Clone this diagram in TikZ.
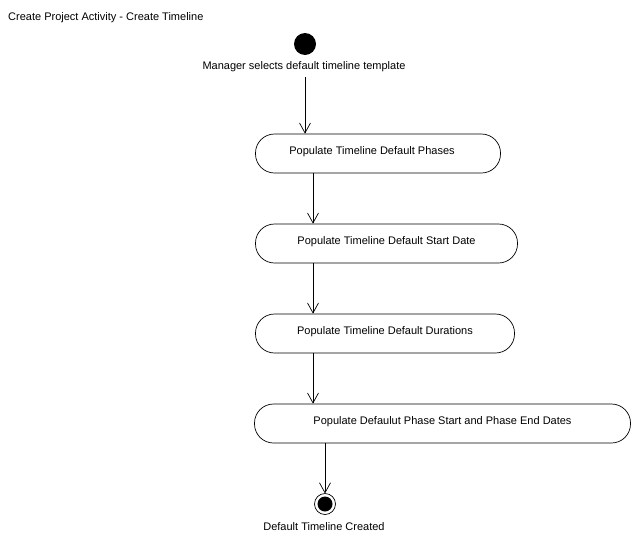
\documentclass[tikz,border=0pt]{standalone}
\usepackage{fontspec}
\setmainfont{Liberation Sans}
\usetikzlibrary{arrows.meta}
\begin{document}
\begin{tikzpicture}[x=1pt,y=-1pt,
  lbl/.style={font=\fontsize{11}{13}\selectfont, inner sep=0pt},
  act/.style={draw, line width=0.7pt, rounded corners=19pt, minimum height=39pt, inner sep=0pt, text height=6pt, text depth=5pt, font=\fontsize{11}{13}\selectfont},
  flow/.style={draw, line width=0.7pt, -{Straight Barb[length=10pt,width=11pt,line width=0.7pt]}}]
\useasboundingbox (0,0) rectangle (642,544);
\node[lbl, anchor=west] (title) at (8,18) {Create Project Activity - Create Timeline};
\fill (305,44) circle (11) coordinate (startc);
\node[lbl] (start) at (304,67) {Manager selects default timeline template};
\node[act, minimum width=245pt] (a1) at (378,153.5) {\hspace*{-12pt}Populate Timeline Default Phases};
\node[act, minimum width=262pt] (a2) at (386.5,243.5) {Populate Timeline Default Start Date};
\node[act, minimum width=259pt] (a3) at (385,333.5) {Populate Timeline Default Durations};
\node[act, minimum width=376pt] (a4) at (442.5,423.5) {Populate Defaulut Phase Start and Phase End Dates};
\draw[line width=0.7pt] (325,504) circle (10.5);
\fill (325,504) circle (7.5);
\coordinate (endc) at (325,493.5);
\node[lbl] (endl) at (324,527) {Default Timeline Created};
\coordinate (s1) at (305,77);
\draw[flow] (s1) -- (s1 |- a1.north);
\draw[flow] (a1.south -| 313,0) -- (a2.north -| 313,0);
\draw[flow] (a2.south -| 313,0) -- (a3.north -| 313,0);
\draw[flow] (a3.south -| 313,0) -- (a4.north -| 313,0);
\draw[flow] (a4.south -| 325,0) -- (endc);
\end{tikzpicture}
\end{document}
